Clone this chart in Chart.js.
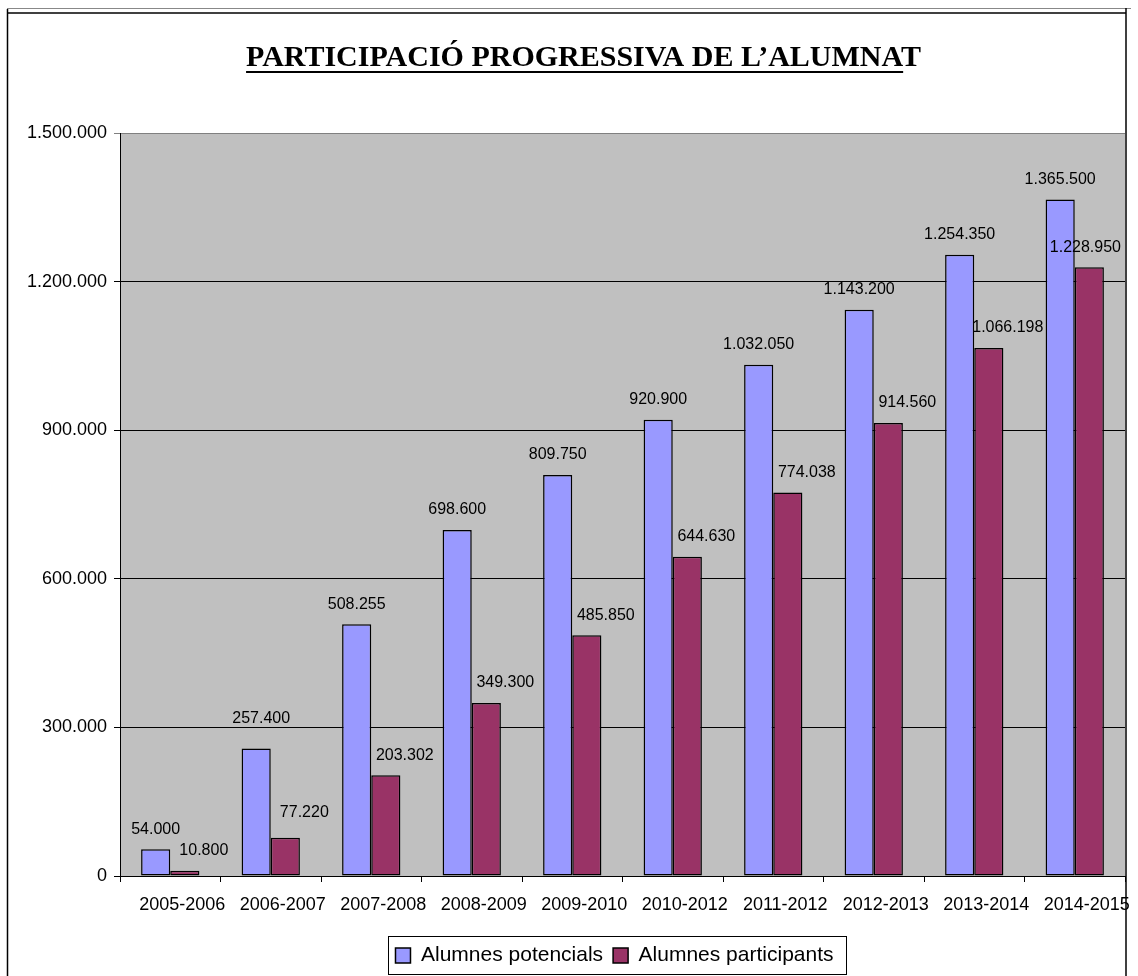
<!DOCTYPE html>
<html><head><meta charset="utf-8">
<script src="https://cdn.jsdelivr.net/npm/chart.js@4/dist/chart.umd.min.js"></script>
<style>html,body{margin:0;padding:0;background:#fff;}</style>
</head><body>
<canvas id="c" width="1138" height="976"></canvas>
<script>
const titleText = "PARTICIPACIÓ PROGRESSIVA DE L’ALUMNAT";
const categories = ["2005-2006","2006-2007","2007-2008","2008-2009","2009-2010","2010-2012","2011-2012","2012-2013","2013-2014","2014-2015"];
const seriesNames = ["Alumnes potencials","Alumnes participants"];
const potencials = [54000,257400,508255,698600,809750,920900,1032050,1143200,1254350,1365500];
const participants = [10800,77220,203302,349300,485850,644630,774038,914560,1066198,1228950];
const yMin = 0, yMax = 1500000, yStep = 300000;

function fmt(v){ return String(Math.round(v)).replace(/\B(?=(\d{3})+(?!\d))/g,'.'); }
const SANS = "'Liberation Sans', Arial, sans-serif";
const SERIF = "'Liberation Serif', 'Times New Roman', serif";
const TITLE_SIZE = 30;
const LEGEND_SIZE = 21;

const framePlugin = {
  id:'frame',
  beforeDraw(chart){
    const {ctx, chartArea:a} = chart;
    ctx.save();
    ctx.fillStyle='#fff'; ctx.fillRect(0,0,chart.width,chart.height);
    ctx.fillStyle='#C0C0C0'; ctx.fillRect(a.left,a.top,a.right-a.left,a.bottom-a.top);
    ctx.restore();
  },
  afterLayout(chart){
    if(chart.titleBlock){ chart.titleBlock.left += 21; chart.titleBlock.right += 21; }
    if(chart.legend){ chart.legend.left += 52; chart.legend.right += 52; }
  },
  afterDraw(chart){
    const {ctx} = chart;
    ctx.save();
    // outer frame
    ctx.strokeStyle='#888'; ctx.lineWidth=1;
    ctx.beginPath(); ctx.moveTo(7,8.5); ctx.lineTo(1131,8.5); ctx.stroke();
    ctx.strokeStyle='#000'; ctx.lineWidth=1.5;
    ctx.beginPath(); ctx.moveTo(7.5,980); ctx.lineTo(7.5,9); ctx.stroke();
    ctx.beginPath(); ctx.moveTo(7.5,13); ctx.lineTo(1126,13); ctx.stroke();
    ctx.beginPath(); ctx.moveTo(1126,8); ctx.lineTo(1126,980); ctx.stroke();
    // title underline
    const tb = chart.titleBlock;
    ctx.font = "bold " + TITLE_SIZE + "px " + SERIF;
    const full = ctx.measureText(titleText).width;
    const part = ctx.measureText(titleText.slice(0,-1)).width;
    const cx = (tb.left+tb.right)/2;
    const x0 = cx - full/2;
    const ty = tb.top + 40 + TITLE_SIZE*1.2/2 + 13;
    ctx.fillStyle='#000';
    ctx.fillRect(x0, ty, part, 2);
    // legend box
    const hb = chart.legend.legendHitBoxes;
    if(hb && hb.length){
      const l = hb[0].left - 7;
      const last = hb[hb.length-1];
      const r = last.left + last.width + 13;
      const t = hb[0].top - 9;
      const b = hb[0].top + hb[0].height + 8;
      ctx.strokeStyle='#000'; ctx.lineWidth=1;
      ctx.strokeRect(Math.round(l)+0.5, Math.round(t)+0.5, Math.round(r-l), Math.round(b-t));
    }
    ctx.restore();
  }
};

const valueLabels = {
  id:'valueLabels',
  afterDatasetsDraw(chart){
    const {ctx, chartArea:a} = chart;
    ctx.save();
    ctx.font = "16px " + SANS;
    ctx.fillStyle='#000';
    ctx.textAlign='center'; ctx.textBaseline='middle';
    chart.data.datasets.forEach((ds,di)=>{
      const meta = chart.getDatasetMeta(di);
      meta.data.forEach((bar,i)=>{
        const txt = fmt(ds.data[i]);
        const w = ctx.measureText(txt).width;
        let x = bar.x + (di===1 ? 19 : 0);
        let y = bar.y - 20;
        if(di===0 && i===1){ x += 5; y -= 10; }
        if(di===1 && i===1){ y -= 5; }
        if(x + w/2 > a.right - 4) x = a.right - 4 - w/2;
        ctx.fillText(txt, x, y);
      });
    });
    ctx.restore();
  }
};

new Chart(document.getElementById('c'), {
  type:'bar',
  data:{
    labels: categories,
    datasets:[
      {label:seriesNames[0], data:potencials, backgroundColor:'#9999FF', borderColor:'#000', borderWidth:1.5, borderSkipped:false},
      {label:seriesNames[1], data:participants, backgroundColor:'#993366', borderColor:'#000', borderWidth:1.5, borderSkipped:false}
    ]
  },
  options:{
    responsive:false, animation:false, devicePixelRatio:1,
    layout:{padding:{left:0,right:13,top:0,bottom:0}},
    datasets:{bar:{categoryPercentage:0.58, barPercentage:1.0}},
    plugins:{
      title:{display:true, text:titleText, color:'#000', font:{family:SERIF, size:TITLE_SIZE, weight:'bold'}, padding:{top:40,bottom:133-40-TITLE_SIZE*1.2}},
      legend:{display:true, position:'bottom', labels:{color:'#000', font:{family:SANS, size:LEGEND_SIZE}, boxWidth:15, boxHeight:15, padding:10}},
      tooltip:{enabled:false}
    },
    scales:{
      x:{
        grid:{display:true, drawOnChartArea:false, drawTicks:true, tickLength:6, color:'#000'},
        border:{display:true, color:'#000', width:1},
        ticks:{color:'#000', font:{family:SANS, size:18}, padding:12, labelOffset:12, autoSkip:false, maxRotation:0, minRotation:0},
        afterFit(s){ s.height = 59; }
      },
      y:{
        min:yMin, max:yMax,
        grid:{color:(c)=> c.tick && c.tick.value===yMax ? '#808080' : '#000', lineWidth:1, tickLength:6, drawTicks:true},
        border:{display:true, color:'#000', width:1},
        ticks:{stepSize:yStep, color:'#000', font:{family:SANS, size:18}, padding:7, callback:(v)=>fmt(v)},
        afterFit(s){ s.width = 120; }
      }
    }
  },
  plugins:[framePlugin, valueLabels]
});
</script>
</body></html>
